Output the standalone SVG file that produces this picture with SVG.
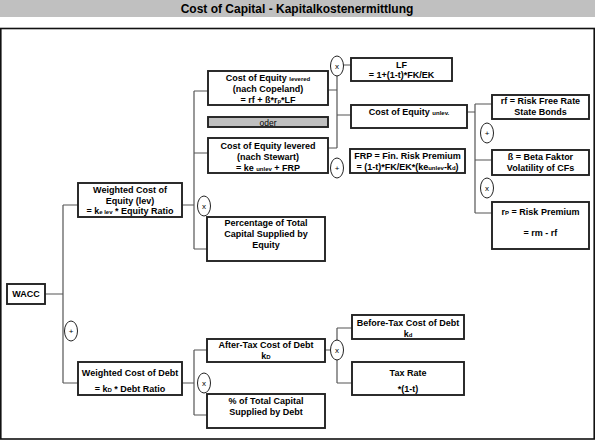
<svg xmlns="http://www.w3.org/2000/svg" width="595" height="440" viewBox="0 0 595 440">
<style>
text{font-family:"Liberation Sans",Arial,sans-serif;font-weight:bold;font-size:9px;fill:#000;text-anchor:middle}
.box{fill:#fff;stroke:#222;stroke-width:1.9}
.gray{fill:#c0c0c0;stroke:#222;stroke-width:1.9}
.con{fill:none;stroke:#555;stroke-width:1.2}
.op{fill:#fff;stroke:#222;stroke-width:1}
.opt{font-weight:normal;font-size:8px}
.s{font-size:6px}
</style>
<rect x="0" y="0" width="595" height="17" fill="#c0c0c0"/>
<text x="297" y="13" style="font-size:12px">Cost of Capital - Kapitalkostenermittlung</text>
<rect x="0.8" y="28.5" width="593.4" height="410.5" fill="#fff" stroke="#111" stroke-width="1.6"/>

<g id="connectors">
<path class="con" d="M45,294H63M63,205V383M63,205H78M63,383H78"/>
<path class="con" d="M182,205H194M194,91V249M194,91H208M194,153H208M194,249H207"/>
<path class="con" d="M328,90H337M328,148H337M337,65V148M337,65H351M337,115H351"/>
<path class="con" d="M467,112H475M475,104V213M475,104H492M475,160H492M475,213H492"/>
<path class="con" d="M182,383H194M194,350V415M194,350H207M194,415H207"/>
<path class="con" d="M325,350H337M337,328V383M337,328H352M337,383H352"/>
</g>

<g id="operators">
<ellipse class="op" cx="71" cy="331" rx="6.5" ry="10"/><text class="opt" x="71" y="334">+</text>
<ellipse class="op" cx="204" cy="206" rx="6.5" ry="10"/><text class="opt" x="204" y="209">x</text>
<ellipse class="op" cx="337" cy="66" rx="6.5" ry="10"/><text class="opt" x="337" y="69">x</text>
<ellipse class="op" cx="337" cy="168" rx="6.5" ry="10"/><text class="opt" x="337" y="171">+</text>
<ellipse class="op" cx="487" cy="133" rx="6.5" ry="10"/><text class="opt" x="487" y="136">+</text>
<ellipse class="op" cx="487" cy="188" rx="6.5" ry="10"/><text class="opt" x="487" y="191">x</text>
<ellipse class="op" cx="204" cy="383" rx="6.5" ry="10"/><text class="opt" x="204" y="386">x</text>
<ellipse class="op" cx="337" cy="350" rx="6.5" ry="10"/><text class="opt" x="337" y="353">x</text>
</g>

<g id="wacc"><rect class="box" x="7" y="284" width="38" height="20"/><text x="26" y="297">WACC</text></g>

<g id="wce"><rect class="box" x="78" y="183" width="104" height="34"/>
<text x="130" y="193">Weighted Cost of</text>
<text x="130" y="204">Equity (lev)</text>
<text x="130" y="214">= k<tspan class="s">e lev</tspan> * Equity Ratio</text></g>

<g id="wcd"><rect class="box" x="78" y="362" width="104" height="33"/>
<text x="130" y="376">Weighted Cost of Debt</text>
<text x="130" y="392">= k<tspan class="s">D</tspan> * Debt Ratio</text></g>

<g id="copeland"><rect class="box" x="208" y="71" width="120" height="34"/>
<text x="268" y="81">Cost of Equity <tspan class="s">levered</tspan></text>
<text x="268" y="92">(nach Copeland)</text>
<text x="268" y="103">= rf + ß*r<tspan class="s">p</tspan>*LF</text></g>

<g id="oder"><rect class="gray" x="208" y="117" width="120" height="10"/>
<text x="268" y="125.5" style="font-weight:normal;font-size:8.5px">oder</text></g>

<g id="stewart"><rect class="box" x="208" y="138" width="120" height="35"/>
<text x="268" y="149">Cost of Equity levered</text>
<text x="268" y="160">(nach Stewart)</text>
<text x="268" y="171">=  ke <tspan class="s">unlev</tspan> + FRP</text></g>

<g id="pct-equity"><rect class="box" x="207" y="217" width="118" height="44"/>
<text x="266" y="226">Percentage of Total</text>
<text x="266" y="237">Capital Supplied by</text>
<text x="266" y="248">Equity</text></g>

<g id="lf"><rect class="box" x="351" y="58" width="101" height="23"/>
<text x="401.5" y="68">LF</text>
<text x="401.5" y="78">= 1+(1-t)*FK/EK</text></g>

<g id="ce-unlev"><rect class="box" x="351" y="105" width="116" height="23"/>
<text x="409" y="115">Cost of Equity <tspan class="s">unlev.</tspan></text></g>

<g id="frp"><rect class="box" x="350" y="149" width="115" height="24"/>
<text x="407.5" y="159">FRP = Fin. Risk Premium</text>
<text x="407.5" y="170">= (1-t)*FK/EK*(ke<tspan class="s">unlev</tspan>-k<tspan class="s">d</tspan>)</text></g>

<g id="rf"><rect class="box" x="492" y="95" width="97" height="24"/>
<text x="540.5" y="104">rf = Risk Free Rate</text>
<text x="540.5" y="115">State Bonds</text></g>

<g id="beta"><rect class="box" x="492" y="150" width="97" height="25"/>
<text x="540.5" y="160">ß = Beta Faktor</text>
<text x="540.5" y="171">Volatility of CFs</text></g>

<g id="rp"><rect class="box" x="492" y="202" width="97" height="47"/>
<text x="540.5" y="215">r<tspan class="s">P</tspan> = Risk Premium</text>
<text x="540.5" y="236">= rm - rf</text></g>

<g id="after-tax"><rect class="box" x="207" y="339" width="118" height="23"/>
<text x="266" y="348">After-Tax Cost of Debt</text>
<text x="266" y="359">k<tspan class="s">D</tspan></text></g>

<g id="pct-debt"><rect class="box" x="207" y="394" width="118" height="34"/>
<text x="266" y="404">% of Total Capital</text>
<text x="266" y="415">Supplied by Debt</text></g>

<g id="before-tax"><rect class="box" x="352" y="315" width="112" height="24"/>
<text x="408" y="326">Before-Tax Cost of Debt</text>
<text x="408" y="337">k<tspan class="s">d</tspan></text></g>

<g id="tax-rate"><rect class="box" x="352" y="362" width="112" height="33"/>
<text x="408" y="376">Tax Rate</text>
<text x="408" y="392">*(1-t)</text></g>
</svg>
